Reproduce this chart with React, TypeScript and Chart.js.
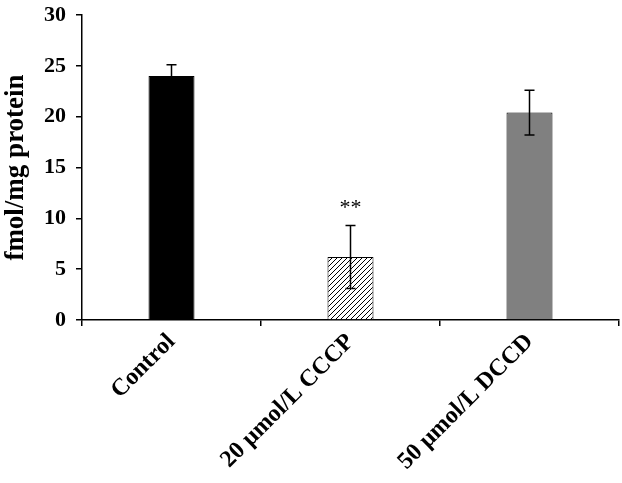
import React, { useEffect, useRef } from "react";
import { Chart, registerables } from "chart.js";
Chart.register(...registerables);

const categories = ["Control", "20 \u03bcmol/L CCCP", "50 \u03bcmol/L DCCD"];
const means = [24.0, 6.2, 20.4];
const errUpper = [25.1, 9.3, 22.6];
const errLower = [22.9, 3.1, 18.2];
const annotations = ["", "**", ""];
const yTicks = [0, 5, 10, 15, 20, 25, 30];

function makeHatch(): CanvasPattern | string {
  const c = document.createElement("canvas");
  c.width = 5;
  c.height = 5;
  const g = c.getContext("2d");
  if (!g) return "#fff";
  g.fillStyle = "#fff";
  g.fillRect(0, 0, 5, 5);
  g.strokeStyle = "#000";
  g.lineWidth = 1;
  g.beginPath();
  g.moveTo(-1, 6);
  g.lineTo(6, -1);
  g.moveTo(-1, 1);
  g.lineTo(1, -1);
  g.moveTo(4, 6);
  g.lineTo(6, 4);
  g.stroke();
  const p = g.createPattern(c, "repeat");
  return p || "#fff";
}

const errorBarPlugin = {
  id: "errorBars",
  afterDatasetsDraw(chart: any) {
    const ctx = chart.ctx;
    const x = chart.scales.x;
    const y = chart.scales.y;
    ctx.save();
    ctx.strokeStyle = "#000";
    ctx.lineWidth = 1.5;
    categories.forEach((_, i) => {
      const cx = x.getPixelForValue(i);
      const yt = y.getPixelForValue(errUpper[i]);
      const yb = y.getPixelForValue(errLower[i]);
      ctx.beginPath();
      ctx.moveTo(cx, yt);
      ctx.lineTo(cx, yb);
      ctx.moveTo(cx - 5, yt);
      ctx.lineTo(cx + 5, yt);
      ctx.moveTo(cx - 5, yb);
      ctx.lineTo(cx + 5, yb);
      ctx.stroke();
      if (annotations[i]) {
        ctx.fillStyle = "#000";
        ctx.font = "22px 'Liberation Serif'";
        ctx.textAlign = "center";
        ctx.textBaseline = "alphabetic";
        ctx.fillText(annotations[i], cx, yt - 11);
      }
    });
    ctx.restore();
  },
};

export default function App() {
  const ref = useRef<HTMLCanvasElement>(null);
  useEffect(() => {
    if (!ref.current) return;
    const hatch = makeHatch();
    const chart = new Chart(ref.current, {
      type: "bar",
      data: {
        labels: categories,
        datasets: [
          {
            data: means,
            backgroundColor: ["#000000", hatch as any, "#808080"],
            borderColor: "#000",
            borderWidth: 1,
            categoryPercentage: 1,
            barPercentage: 0.257,
          },
        ],
      },
      options: {
        animation: false,
        responsive: false,
        layout: { padding: { top: 15, right: 3, left: 0, bottom: 0 } },
        plugins: { legend: { display: false }, tooltip: { enabled: false } },
        scales: {
          x: {
            border: { color: "#000", width: 1.5 },
            grid: { drawOnChartArea: false, color: "#000", tickLength: 6, lineWidth: 1.5 },
            ticks: {
              minRotation: 45,
              maxRotation: 45,
              autoSkip: false,
              color: "#000",
              font: { family: "'Liberation Serif'", size: 24, weight: "bold" },
              padding: 2,
            },
            afterFit(s: any) {
              s.height = 163;
              s.paddingLeft = 0;
              s.paddingRight = 0;
            },
          },
          y: {
            min: 0,
            max: 30,
            border: { color: "#000", width: 1.5 },
            grid: { drawOnChartArea: false, color: "#000", tickLength: 6, lineWidth: 1.5 },
            afterBuildTicks(s: any) {
              s.ticks = yTicks.map((v) => ({ value: v }));
            },
            ticks: {
              color: "#000",
              font: { family: "'Liberation Serif'", size: 22, weight: "bold" },
              padding: 10,
            },
            title: {
              display: true,
              text: "fmol/mg protein",
              color: "#000",
              font: { family: "'Liberation Serif'", size: 27, weight: "bold" },
              padding: 0,
            },
            afterFit(s: any) {
              s.width = 82;
              s.paddingTop = 0;
              s.paddingBottom = 0;
            },
          },
        },
      },
      plugins: [errorBarPlugin],
    });
    return () => chart.destroy();
  }, []);
  return (
    <div style={{ position: "fixed", left: 0, top: 0, width: 622, height: 483, background: "#fff" }}>
      <canvas ref={ref} width={622} height={483} />
    </div>
  );
}
